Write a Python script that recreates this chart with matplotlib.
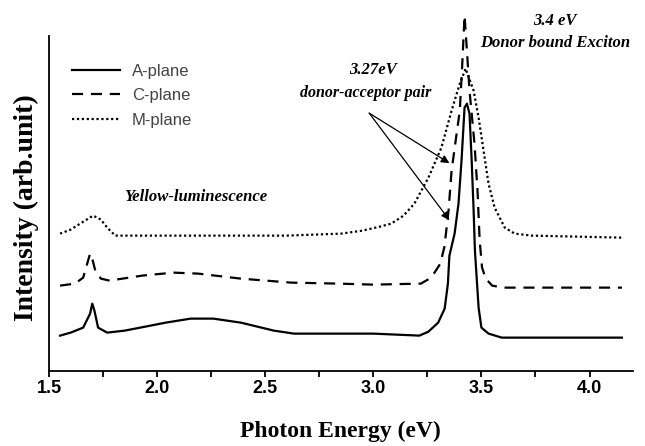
"""Photoluminescence spectra of A-, C- and M-plane samples."""

import matplotlib

matplotlib.use("Agg")

import matplotlib.pyplot as plt
from matplotlib.ticker import FormatStrFormatter, MultipleLocator

# values (arbitrary intensity units)
a_energy = [1.551, 1.60, 1.658, 1.69, 1.70, 1.71, 1.727, 1.769, 1.85, 1.922, 2.04,
            2.155, 2.26, 2.387, 2.54, 2.633, 2.75, 3.0, 3.213, 3.255, 3.30, 3.33,
            3.345, 3.352, 3.376, 3.394, 3.408, 3.422, 3.433, 3.445, 3.455, 3.464,
            3.47, 3.487, 3.50, 3.533, 3.594, 4.15]
a_intensity = [35, 38, 43, 57, 67, 60, 43, 38, 40, 43, 48,
               52, 52, 48, 40, 37, 37, 37, 35, 39, 48, 62,
               87, 115, 137, 167, 210, 263, 267, 257, 210, 160,
               120, 63, 43, 37, 33, 33]

c_energy = [1.551, 1.62, 1.658, 1.69, 1.70, 1.714, 1.74, 1.78, 1.93, 2.076, 2.19,
            2.387, 2.62, 2.84, 3.0, 3.22, 3.26, 3.28, 3.31, 3.329, 3.348, 3.362,
            3.40, 3.41, 3.422, 3.433, 3.445, 3.468, 3.482, 3.492, 3.503, 3.52, 3.55,
            3.6, 4.15]
c_intensity = [85, 87, 93, 117, 112, 100, 92, 90, 95, 98, 97,
               92, 88, 87, 86, 87, 92, 97, 107, 124, 160, 200,
               260, 300, 355, 320, 280, 227, 180, 130, 103, 92, 85,
               83, 83]

m_energy = [1.551, 1.60, 1.644, 1.704, 1.74, 1.769, 1.806, 2.2, 2.6, 2.851, 2.95,
            3.03, 3.083, 3.14, 3.19, 3.255, 3.315, 3.362, 3.40, 3.427, 3.464, 3.487,
            3.51, 3.533, 3.561, 3.608, 3.654, 3.733, 4.15]
m_intensity = [137, 141, 147, 155, 151, 143, 135, 135, 135, 137, 140,
               144, 147, 155, 167, 193, 223, 260, 287, 302, 280, 253,
               220, 187, 163, 143, 137, 135, 133]

SERIF = ["Liberation Serif", "DejaVu Serif"]
SANS = ["Liberation Sans", "DejaVu Sans"]

fig = plt.figure(figsize=(6.45, 4.46), dpi=100)
ax = fig.add_axes([0.076, 0.169, 0.905, 0.750])

ax.plot(a_energy, a_intensity, color="black", lw=1.6, label="A-plane", clip_on=False)
ax.plot(c_energy, c_intensity, color="black", lw=1.6, ls=(0, (5, 3.5)),
        label="C-plane", clip_on=False)
ax.plot(m_energy, m_intensity, color="black", lw=1.6, ls=(0, (1, 1.2)),
        label="M-plane", clip_on=False)

ax.set_xlim(1.5, 4.2)
ax.set_ylim(0, 334.5)
ax.spines[["top", "right"]].set_visible(False)
ax.spines[["left", "bottom"]].set_linewidth(1.3)
ax.set_yticks([])
ax.xaxis.set_major_locator(MultipleLocator(0.5))
ax.xaxis.set_minor_locator(MultipleLocator(0.25))
ax.xaxis.set_major_formatter(FormatStrFormatter("%.1f"))
ax.tick_params(axis="x", which="both", direction="out", length=4, width=1.3, pad=3)
for label in ax.get_xticklabels():
    label.set_fontfamily(SANS)
    label.set_fontweight("bold")
    label.set_fontsize(13)

fig.text(26 / 645, 1 - 208 / 446, "Intensity (arb.unit)", rotation=90,
         ha="center", va="center", family=SERIF, weight="bold", fontsize=20)
fig.text(340 / 645, 1 - 431 / 446, "Photon Energy (eV)", ha="center", va="center",
         family=SERIF, weight="bold", fontsize=17)

legend = ax.legend(loc="upper left", bbox_to_anchor=(0.039, 0.917), frameon=False,
                   borderpad=0, borderaxespad=0, handlelength=2.9, handletextpad=0.72,
                   labelspacing=0.56, prop={"family": SANS, "size": 12})
for text in legend.get_texts():
    text.set_color("#444444")

note = dict(family=SERIF, style="italic", weight="bold", ha="center", va="center")
ax.text(3.84, 349.5, "3.4 eV", fontsize=12, clip_on=False, **note)
ax.text(3.84, 327.5, "Donor bound Exciton", fontsize=12, **note)
ax.text(3.0, 300.5, "3.27eV", fontsize=12, **note)
ax.text(2.967, 277.5, "donor-acceptor pair", fontsize=11.5, **note)
ax.text(2.18, 173.5, "Yellow-luminescence", fontsize=12, **note)

arrow = dict(arrowstyle="-|>", color="black", lw=0.9, mutation_scale=12,
             shrinkA=0, shrinkB=0)
ax.annotate("", xy=(3.352, 207.5), xytext=(2.981, 257.5), arrowprops=arrow)
ax.annotate("", xy=(3.352, 150.5), xytext=(2.981, 257.5), arrowprops=arrow)

fig.savefig("out.png", dpi=100)
